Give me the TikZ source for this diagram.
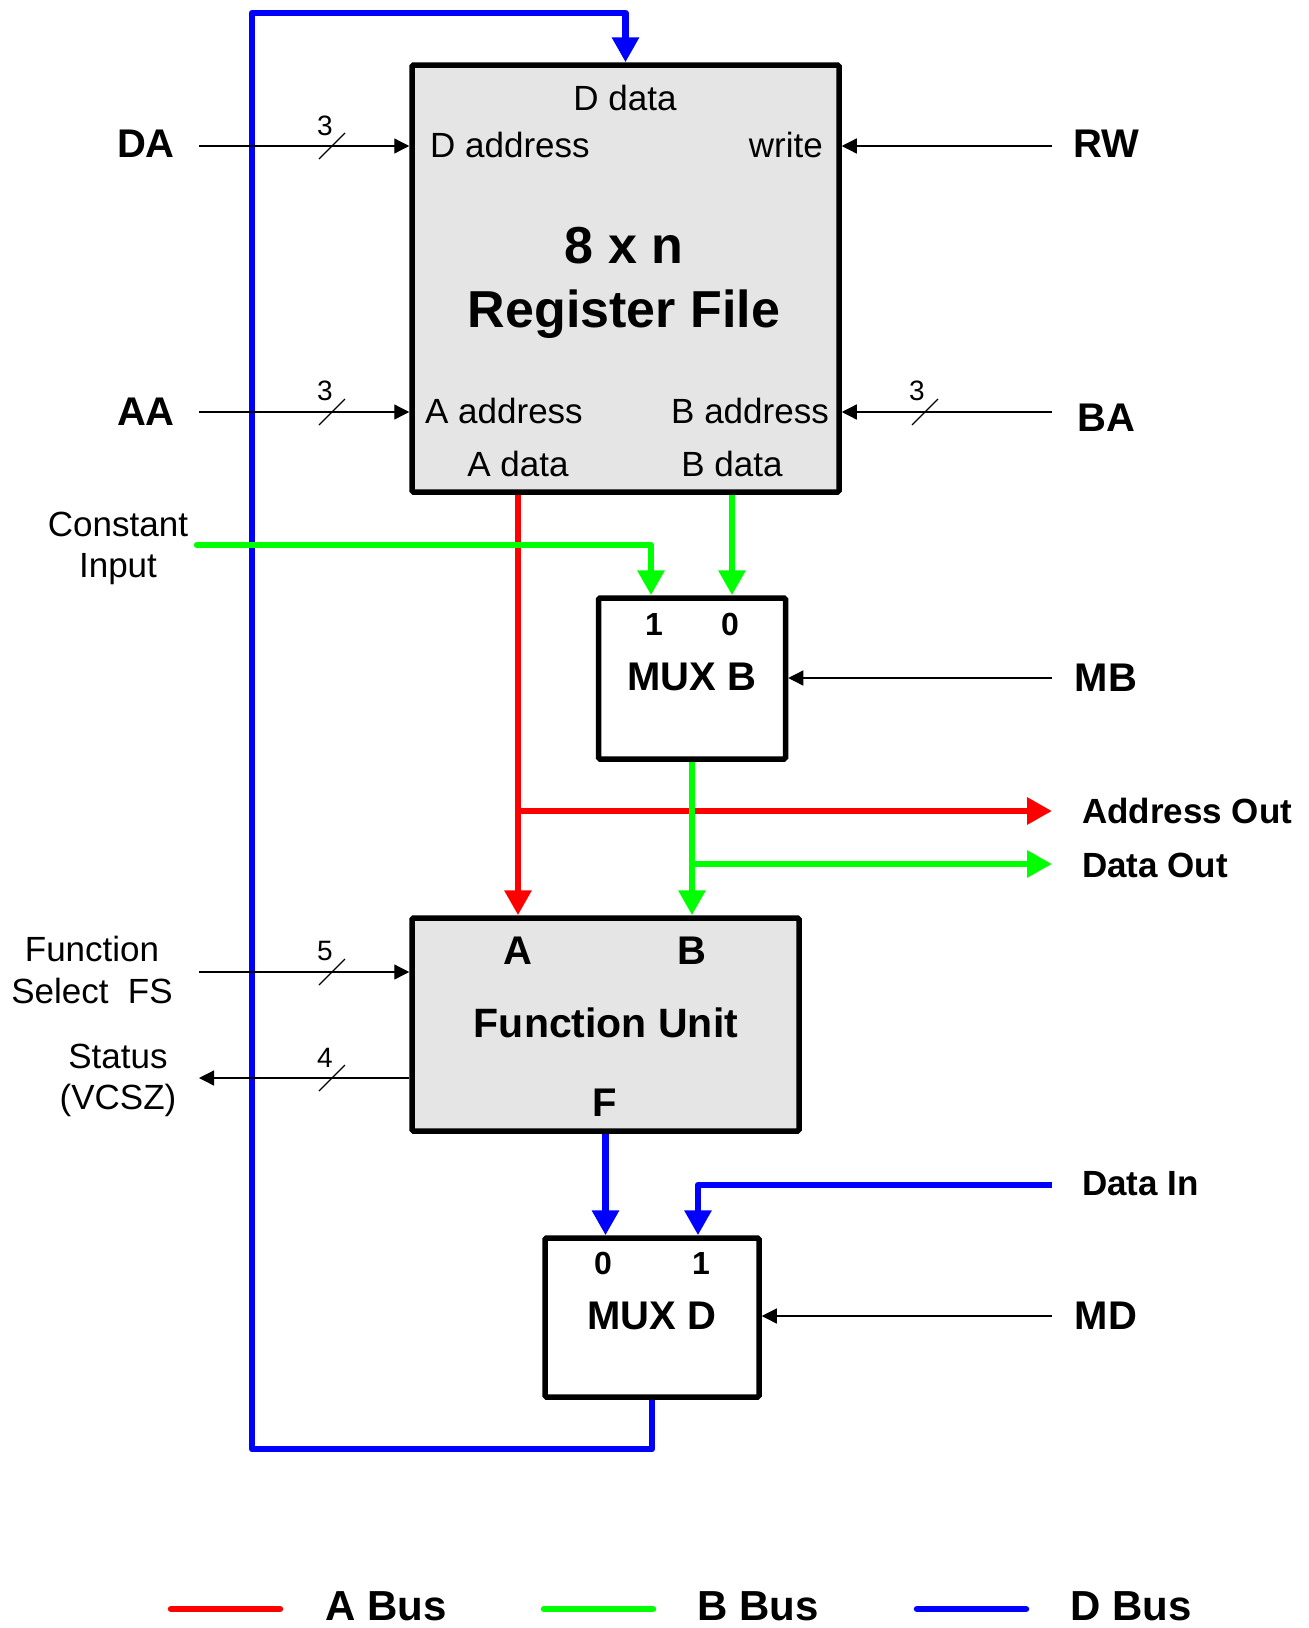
\documentclass[tikz,border=0pt]{standalone}
\usepackage{fontspec}
\setmainfont{Liberation Sans}
\usetikzlibrary{arrows.meta}
\definecolor{busred}{RGB}{255,0,0}
\definecolor{busgreen}{RGB}{0,255,0}
\definecolor{busblue}{RGB}{0,0,255}
\definecolor{boxgray}{RGB}{229,229,229}
\tikzset{
  t35/.style={inner sep=0pt, font=\fontsize{35}{42}\selectfont},
  b35/.style={inner sep=0pt, font=\fontsize{35}{42}\selectfont\bfseries},
  b40/.style={inner sep=0pt, font=\fontsize{40}{48}\selectfont\bfseries},
  b41/.style={inner sep=0pt, font=\fontsize{41}{48}\selectfont\bfseries},
  b52/.style={inner sep=0pt, font=\fontsize{52}{60}\selectfont\bfseries},
  blg/.style={inner sep=0pt, font=\fontsize{42}{50}\selectfont\bfseries},
  numlab/.style={inner sep=0pt, font=\fontsize{28}{34}\selectfont},
  diglab/.style={inner sep=0pt, font=\fontsize{32}{38}\selectfont\bfseries},
  blockbox/.style={draw=black, line width=5.5pt, rounded corners=1.5pt, inner sep=0pt},
  graybox/.style={blockbox, fill=boxgray},
  whitebox/.style={blockbox, fill=white},
  sig/.style={draw=black, line width=1.3pt, -{Triangle[length=15pt,width=15pt]}},
  slashmark/.style={draw=black, line width=1.3pt},
  lineA/.style={draw=busred, line width=6.5pt, line join=round},
  lineB/.style={draw=busgreen, line width=6.5pt, line join=round},
  lineD/.style={draw=busblue, line width=6.5pt, line join=round},
  bustip/.style={-{Triangle[length=25pt,width=26pt]}},
}
\begin{document}
\begin{tikzpicture}[x=1pt,y=-1pt]
\useasboundingbox (0,0) rectangle (1309,1628);

% ---- blocks
\node[graybox, minimum width=427pt, minimum height=427pt] (rf) at (625.5,278.5) {};
\node[whitebox, minimum width=187pt, minimum height=161pt] (muxb) at (692,678.5) {};
\node[graybox, minimum width=387pt, minimum height=213pt] (fu) at (605.5,1024.5) {};
\node[whitebox, minimum width=214pt, minimum height=159pt] (muxd) at (652,1317.5) {};

% ---- coordinates for free ends
\coordinate (daS) at (199,146);
\coordinate (rwS) at (1052,146);
\coordinate (aaS) at (199,412);
\coordinate (baS) at (1052,412);
\coordinate (mbS) at (1052,678);
\coordinate (mdS) at (1052,1316);
\coordinate (fsS) at (199,972);
\coordinate (stE) at (199,1078);
\coordinate (ciS) at (197,545);
\coordinate (aoE) at (1052,811);
\coordinate (doE) at (1052,864);
\coordinate (diS) at (1052,1185);
\coordinate (ax) at (518,0);
\coordinate (bx) at (732,0);
\coordinate (c1x) at (651,0);
\coordinate (d1x) at (698,0);
\coordinate (dl) at (252,1449);
\coordinate (dt) at (252,13);

% ---- buses
\draw[lineD, bustip] (muxd.south) |- (dl) -- (dt) -| (rf.north);
\draw[lineA, bustip] (rf.south -| ax) -- (fu.north -| ax);
\draw[lineA, bustip] (aoE -| ax) -- (aoE);
\draw[lineB, bustip] (rf.south -| bx) -- (muxb.north -| bx);
\draw[lineB, bustip, line cap=round] (ciS) -| (muxb.north -| c1x);
\draw[lineB, bustip] (muxb.south) -- (fu.north -| muxb.south);
\draw[lineB, bustip] (doE -| muxb.south) -- (doE);
\draw[lineD, bustip] (fu.south) -- (muxd.north -| fu.south);
\draw[lineD, bustip] (diS) -| (muxd.north -| d1x);

% ---- control signals
\draw[sig] (daS) -- (daS -| rf.west);
\draw[sig] (rwS) -- (rwS -| rf.east);
\draw[sig] (aaS) -- (aaS -| rf.west);
\draw[sig] (baS) -- (baS -| rf.east);
\draw[sig] (mbS) -- (mbS -| muxb.east);
\draw[sig] (mdS) -- (mdS -| muxd.east);
\draw[sig] (fsS) -- (fsS -| fu.west);
\draw[sig] (stE -| fu.west) -- (stE);

% ---- width slashes
\draw[slashmark] (319,159) -- (345,133);
\draw[slashmark] (319,425) -- (345,399);
\draw[slashmark] (912,425) -- (938,399);
\draw[slashmark] (319,985) -- (345,959);
\draw[slashmark] (319,1091) -- (345,1065);
\node[numlab, anchor=base] (n1) at (325,135) {3};
\node[numlab, anchor=base] (n2) at (325,400) {3};
\node[numlab, anchor=base] (n3) at (917,400) {3};
\node[numlab, anchor=base] (n4) at (325,960) {5};
\node[numlab, anchor=base] (n5) at (325,1067) {4};

% ---- register file texts
\node[t35, anchor=base] (ddata) at (625,110) {D data};
\node[t35, anchor=base west] (dadr) at (430,157) {D address};
\node[t35, anchor=base east] (wr) at (823,157) {write};
\node[b52, anchor=base] (rft1) at (624,263) {8 x n};
\node[b52, anchor=base] (rft2) at (624,327) {Register File};
\node[t35, anchor=base west] (aadr) at (425,423) {A address};
\node[t35, anchor=base east] (badr) at (829,423) {B address};
\node[t35, anchor=base] (adat) at (518,476) {A data};
\node[t35, anchor=base] (bdat) at (732,476) {B data};

% ---- mux / function unit texts
\node[diglab, anchor=base] (mb1) at (654,635) {1};
\node[diglab, anchor=base] (mb0) at (730,635) {0};
\node[b40, anchor=base] (mbt) at (692,690) {MUX B};
\node[diglab, anchor=base] (md0) at (603,1274) {0};
\node[diglab, anchor=base] (md1) at (701,1274) {1};
\node[b40, anchor=base] (mdt) at (652,1329) {MUX D};
\node[b40, anchor=base] (fa) at (518,964) {A};
\node[b40, anchor=base] (fb) at (692,964) {B};
\node[b41, anchor=base] (fut) at (606,1037) {Function Unit};
\node[b40, anchor=base] (ff) at (605,1116) {F};

% ---- side labels
\node[b40, anchor=base] (da) at (146,157) {DA};
\node[b40, anchor=base] (rw) at (1106,157) {RW};
\node[b40, anchor=base] (aa) at (146,425) {AA};
\node[b40, anchor=base] (ba) at (1106,431) {BA};
\node[b40, anchor=base] (mb) at (1106,691) {MB};
\node[b40, anchor=base] (md) at (1106,1329) {MD};
\node[b35, anchor=base west] (ao) at (1082,823) {Address Out};
\node[b35, anchor=base west] (dout) at (1082,877) {Data Out};
\node[b35, anchor=base west] (din) at (1082,1195) {Data In};
\node[t35, anchor=base] (ci1) at (118,536) {Constant};
\node[t35, anchor=base] (ci2) at (118,577) {Input};
\node[t35, anchor=base] (fs1) at (92,961) {Function};
\node[t35, anchor=base] (fs2) at (92,1003) {Select\ \ FS};
\node[t35, anchor=base] (st1) at (118,1068) {Status};
\node[t35, anchor=base] (st2) at (118,1109) {(VCSZ)};

% ---- legend
\coordinate (lgA1) at (171,1609); \coordinate (lgA2) at (280,1609);
\coordinate (lgB1) at (544,1609); \coordinate (lgB2) at (653,1609);
\coordinate (lgD1) at (917,1609); \coordinate (lgD2) at (1026,1609);
\draw[lineA, line cap=round] (lgA1) -- (lgA2);
\draw[lineB, line cap=round] (lgB1) -- (lgB2);
\draw[lineD, line cap=round] (lgD1) -- (lgD2);
\node[blg, anchor=base] (lgAt) at (386,1620) {A Bus};
\node[blg, anchor=base] (lgBt) at (758,1620) {B Bus};
\node[blg, anchor=base] (lgDt) at (1131,1620) {D Bus};
\end{tikzpicture}
\end{document}
